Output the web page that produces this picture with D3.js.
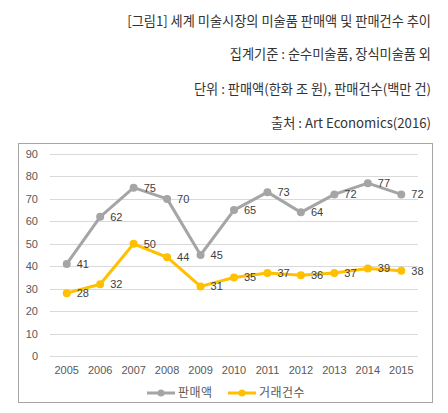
<!DOCTYPE html>
<html>
<head>
<meta charset="utf-8">
<script src="https://cdn.jsdelivr.net/npm/d3@7"></script>
<style>
  body { margin: 0; background: #fff; }
  svg { display: block; }
</style>
</head>
<body>
<div id="chart"></div>
<script>
// chart data
const years = ["2005", "2006", "2007", "2008", "2009", "2010", "2011", "2012", "2013", "2014", "2015"];
const sales = [41, 62, 75, 70, 45, 65, 73, 64, 72, 77, 72];
const deals = [28, 32, 50, 44, 31, 35, 37, 36, 37, 39, 38];
const yTicks = [0, 10, 20, 30, 40, 50, 60, 70, 80, 90];
const seriesNames = ["판매액", "거래건수"];
const titleLines = [
  "[그림1] 세계 미술시장의 미술품 판매액 및 판매건수 추이",
  "집계기준 : 순수미술품, 장식미술품 외",
  "단위 : 판매액(한화 조 원), 판매건수(백만 건)",
  "출처 : Art Economics(2016)"
];

const width = 448, height = 413;
const korFont = "'Noto Sans CJK KR', 'Noto Sans', sans-serif";
const numFont = "'Liberation Sans', Arial, sans-serif";

const svg = d3.select("#chart").append("svg")
  .attr("width", width)
  .attr("height", height);

// header text, right aligned
const titleY = [21, 54, 89, 123];
svg.selectAll("text.title")
  .data(titleLines)
  .enter().append("text")
  .attr("class", "title")
  .attr("x", 431)
  .attr("y", (d, i) => titleY[i])
  .attr("dy", "0.35em")
  .attr("text-anchor", "end")
  .attr("font-family", korFont)
  .attr("font-size", "13.2px")
  .attr("fill", "#333")
  .text(d => d);

// chart frame
svg.append("rect")
  .attr("x", 18.5)
  .attr("y", 143.5)
  .attr("width", 414)
  .attr("height", 259)
  .attr("fill", "#fff")
  .attr("stroke", "#a6a6a6")
  .attr("stroke-width", 1);

const plot = { left: 50, right: 418, top: 154, bottom: 356 };

const x = d3.scaleBand()
  .domain(years)
  .range([plot.left, plot.right]);

const y = d3.scaleLinear()
  .domain([0, 90])
  .range([plot.bottom, plot.top]);

// gridlines
svg.append("g")
  .selectAll("line")
  .data(yTicks)
  .enter().append("line")
  .attr("x1", plot.left)
  .attr("x2", plot.right)
  .attr("y1", d => Math.round(y(d)) + 0.5)
  .attr("y2", d => Math.round(y(d)) + 0.5)
  .attr("stroke", "#d9d9d9")
  .attr("stroke-width", 1);

// y axis labels
const yAxis = svg.append("g")
  .attr("transform", `translate(${plot.left - 12},0)`)
  .call(d3.axisLeft(y).tickValues(yTicks).tickSize(0).tickPadding(0));
yAxis.select(".domain").remove();
yAxis.selectAll("text")
  .attr("font-family", numFont)
  .attr("font-size", "11px")
  .attr("fill", "#595959");

// x axis labels
const xAxis = svg.append("g")
  .attr("transform", `translate(0,${plot.bottom + 10})`)
  .call(d3.axisBottom(x).tickSize(0).tickPadding(0));
xAxis.select(".domain").remove();
xAxis.selectAll("text")
  .attr("font-family", numFont)
  .attr("font-size", "11px")
  .attr("fill", "#595959");

const series = [
  { name: seriesNames[0], values: sales, color: "#a5a5a5" },
  { name: seriesNames[1], values: deals, color: "#ffc000" }
];

const line = d3.line()
  .x((d, i) => x(years[i]) + x.bandwidth() / 2)
  .y(d => y(d));

series.forEach(s => {
  const g = svg.append("g");
  g.append("path")
    .datum(s.values)
    .attr("d", line)
    .attr("fill", "none")
    .attr("stroke", s.color)
    .attr("stroke-width", 3)
    .attr("stroke-linejoin", "round");

  g.selectAll("circle")
    .data(s.values)
    .enter().append("circle")
    .attr("cx", (d, i) => x(years[i]) + x.bandwidth() / 2)
    .attr("cy", d => y(d))
    .attr("r", 4)
    .attr("fill", s.color);

  g.selectAll("text")
    .data(s.values)
    .enter().append("text")
    .attr("x", (d, i) => x(years[i]) + x.bandwidth() / 2 + 10)
    .attr("y", d => y(d))
    .attr("dy", "0.35em")
    .attr("font-family", numFont)
    .attr("font-size", "11px")
    .attr("fill", "#404040")
    .text(d => d);
});

// legend
const legendX = [147, 228];
const legend = svg.append("g")
  .selectAll("g")
  .data(series)
  .enter().append("g")
  .attr("transform", (d, i) => `translate(${legendX[i]},393)`);

legend.append("line")
  .attr("x1", 0).attr("x2", 28)
  .attr("stroke", d => d.color)
  .attr("stroke-width", 3);
legend.append("circle")
  .attr("cx", 14)
  .attr("r", 3.5)
  .attr("fill", d => d.color);
legend.append("text")
  .attr("x", 31)
  .attr("dy", "0.35em")
  .attr("font-family", korFont)
  .attr("font-size", "12px")
  .attr("letter-spacing", "0.5px")
  .attr("fill", "#595959")
  .text(d => d.name);
</script>
</body>
</html>
